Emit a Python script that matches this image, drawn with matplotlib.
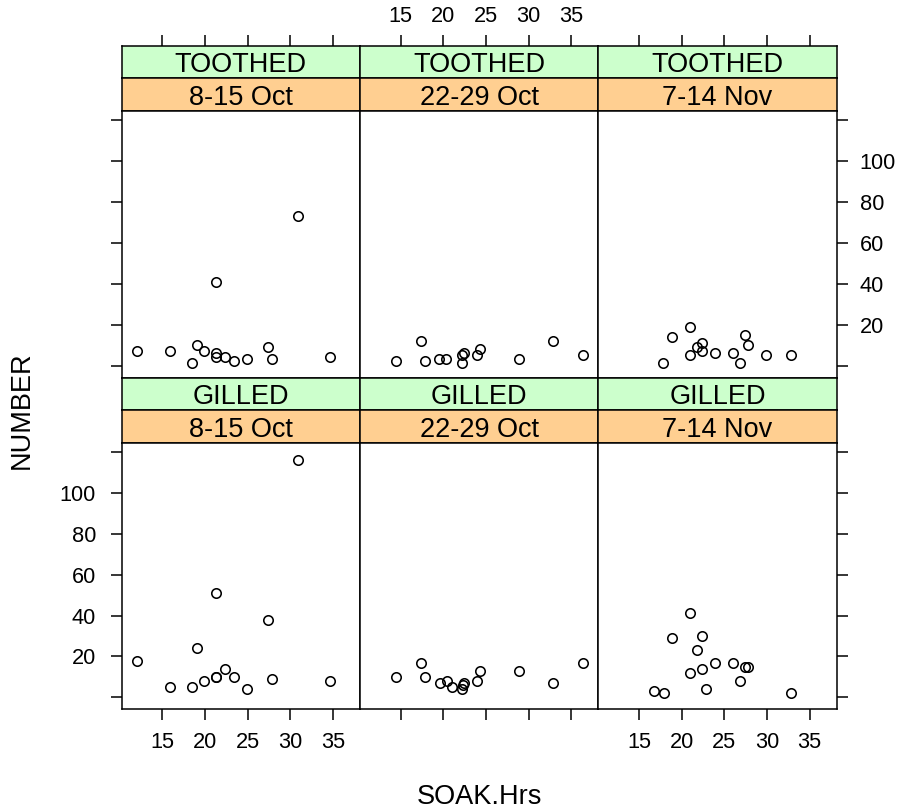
import matplotlib
matplotlib.use('Agg')
import matplotlib.pyplot as plt

plt.rcParams['font.family'] = ['Liberation Sans', 'DejaVu Sans']

# ---------------- data ----------------
gear_levels = ["TOOTHED", "GILLED"]          # top row, bottom row
period_levels = ["8-15 Oct", "22-29 Oct", "7-14 Nov"]

toothed_oct8_x = [12.0, 15.9, 19.1, 19.9, 18.5, 21.3, 21.3, 22.4, 23.4, 24.9, 27.4, 27.8, 21.3, 30.9, 34.7]
toothed_oct8_y = [7, 7, 10, 7, 1, 6, 4, 4, 2, 3, 9, 3, 41, 73, 4]

gilled_oct8_x = [12.0, 15.9, 19.1, 19.9, 18.5, 21.3, 21.3, 22.4, 23.4, 24.9, 27.4, 27.8, 21.3, 30.9, 34.7]
gilled_oct8_y = [18, 5, 24, 8, 5, 10, 10, 14, 10, 4, 38, 9, 51, 116, 8]

toothed_oct22_x = [14.5, 17.4, 17.9, 19.5, 20.3, 22.2, 22.4, 22.2, 23.9, 24.3, 28.9, 32.9, 36.4]
toothed_oct22_y = [2, 12, 2, 3, 3, 5, 6, 1, 5, 8, 3, 12, 5]

gilled_oct22_x = [14.5, 17.4, 17.9, 19.6, 20.4, 21.0, 22.4, 22.3, 22.2, 23.9, 24.3, 28.9, 32.9, 36.4]
gilled_oct22_y = [10, 17, 10, 7, 8, 5, 7, 6, 4, 8, 13, 13, 7, 17]

toothed_nov7_x = [17.8, 18.9, 21.0, 21.0, 21.8, 22.4, 22.4, 23.9, 26.0, 26.8, 27.4, 27.8, 29.9, 32.8]
toothed_nov7_y = [1, 14, 19, 5, 9, 11, 7, 6, 6, 1, 15, 10, 5, 5]

gilled_nov7_x = [16.8, 17.9, 18.9, 21.0, 21.0, 21.8, 22.4, 22.4, 22.9, 23.9, 26.0, 26.8, 27.4, 27.8, 32.8]
gilled_nov7_y = [3, 2, 29, 41, 12, 23, 30, 14, 4, 17, 17, 8, 15, 15, 2]

x_ticks = [15, 20, 25, 30, 35]
y_ticks = [0, 20, 40, 60, 80, 100, 120]
y_tick_labels = ["", "20", "40", "60", "80", "100", ""]

panels = {
    ("TOOTHED", "8-15 Oct"): (toothed_oct8_x, toothed_oct8_y),
    ("TOOTHED", "22-29 Oct"): (toothed_oct22_x, toothed_oct22_y),
    ("TOOTHED", "7-14 Nov"): (toothed_nov7_x, toothed_nov7_y),
    ("GILLED", "8-15 Oct"): (gilled_oct8_x, gilled_oct8_y),
    ("GILLED", "22-29 Oct"): (gilled_oct22_x, gilled_oct22_y),
    ("GILLED", "7-14 Nov"): (gilled_nov7_x, gilled_nov7_y),
}

# ---------------- layout (pixels) ----------------
W, H = 902, 811
fig = plt.figure(figsize=(W / 100, H / 100), dpi=100)

col_x0 = [121.7, 360.0, 598.3]
col_w = 238.3
strip_h = 32.7
row_green_top = [45.7, 377.5]
panel_h = 266.5

XLIM = (10.24, 38.17)
YLIM = (-5.9, 124.4)

GREEN = "#CCFFCC"
ORANGE = "#FFCF91"
TICK_FS = 15.7
BIG_FS = 19.5
LW = 1.1


def add_ax(x0, ytop, w, h):
    return fig.add_axes([x0 / W, 1 - (ytop + h) / H, w / W, h / H])


for r, gear in enumerate(gear_levels):
    gtop = row_green_top[r]
    otop = gtop + strip_h
    ptop = otop + strip_h
    for c, period in enumerate(period_levels):
        x0 = col_x0[c]
        # strips
        sg = add_ax(x0, gtop, col_w, strip_h)
        so = add_ax(x0, otop, col_w, strip_h)
        for s, col, txt in ((sg, GREEN, gear), (so, ORANGE, period)):
            s.set_facecolor(col)
            s.set_xlim(*XLIM)
            s.set_ylim(0, 1)
            s.set_yticks([])
            s.set_xticks([])
            for sp in s.spines.values():
                sp.set_linewidth(LW)
            s.text(0.5, 0.40, txt, transform=s.transAxes, ha='center', va='center',
                   fontsize=BIG_FS)
        # panel
        ax = add_ax(x0, ptop, col_w, panel_h)
        xs, ys = panels[(gear, period)]
        ax.plot(xs, ys, linestyle='none', marker='o', markersize=6.8,
                markerfacecolor='none', markeredgecolor='black', markeredgewidth=1.15)
        ax.set_xlim(*XLIM)
        ax.set_ylim(*YLIM)
        for sp in ax.spines.values():
            sp.set_linewidth(LW)
        ax.set_xticks(x_ticks)
        ax.set_yticks(y_ticks)
        ax.set_yticklabels(y_tick_labels)
        ax.tick_params(axis='both', which='both', direction='out', length=8,
                       width=LW, labelsize=TICK_FS,
                       bottom=False, top=False, left=False, right=False,
                       labelbottom=False, labeltop=False, labelleft=False, labelright=False)
        # y axis: left column ticks on left, right column ticks on right
        if c == 0:
            ax.tick_params(axis='y', left=True, labelleft=(r == 1), pad=10.5)
        if c == 2:
            ax.tick_params(axis='y', right=True, labelright=(r == 0), pad=8.5)
        # x axis
        if r == 1:
            ax.tick_params(axis='x', bottom=True, labelbottom=(c != 1), pad=8.5)
        if r == 0:
            sg.set_xticks(x_ticks)
            sg.tick_params(axis='x', direction='out', length=8, width=LW,
                           labelsize=TICK_FS, bottom=False, labelbottom=False,
                           top=True, labeltop=(c == 1), pad=5.8)

fig.text(479 / W, 1 - 797 / H, "SOAK.Hrs", ha='center', va='center', fontsize=BIG_FS)
fig.text(22 / W, 1 - 410 / H, "NUMBER", ha='center', va='center', rotation=90,
         fontsize=BIG_FS)

fig.savefig("out.png", dpi=100)
